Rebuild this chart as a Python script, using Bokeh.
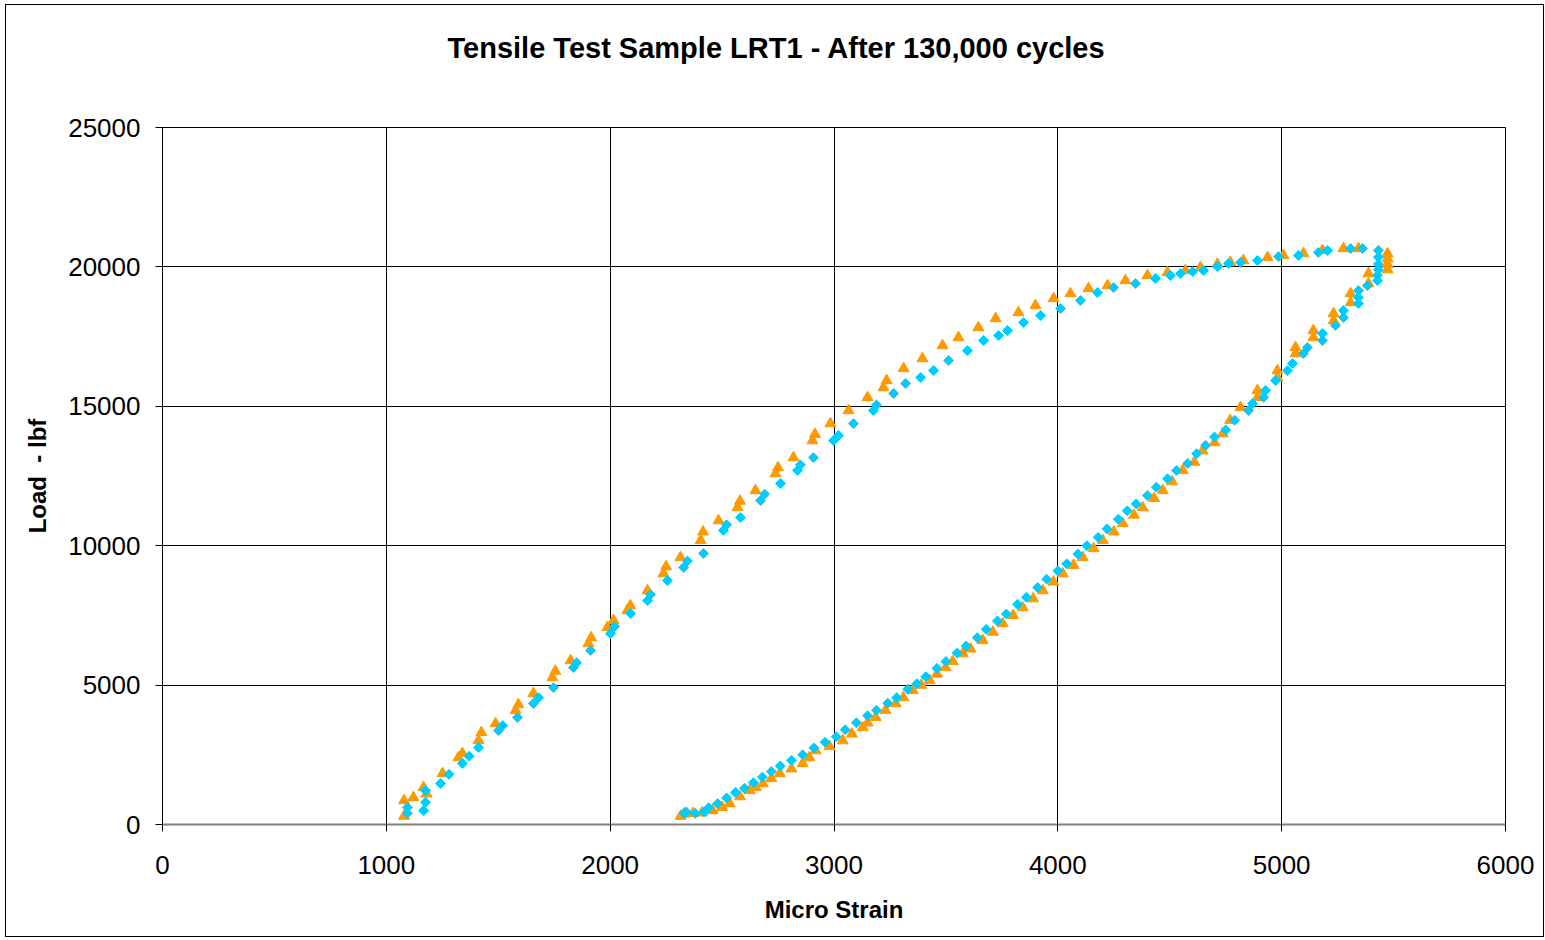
import numpy as np
from bokeh.plotting import figure
from bokeh.models import Range1d, SingleIntervalTicker, Title
from bokeh.embed import file_html
from bokeh.resources import INLINE

# ---- data ----
title_text = "Tensile Test Sample LRT1 - After 130,000 cycles"
x_label = "Micro Strain"
y_label = "Load \u00a0- lbf"

# orange triangles: loading branch then unloading branch
tri_x = [1079, 1079, 1121, 1166, 1180, 1251, 1322, 1340, 1412, 1425, 1488, 1577, 1590, 1657,
         1742, 1755, 1823, 1903, 1915, 1988, 2015, 2077, 2090, 2167, 2238, 2250, 2314, 2404,
         2415, 2484, 2569, 2580, 2649, 2739, 2750, 2819, 2904, 2915, 2984, 3065, 3150, 3221,
         3235, 3311, 3395, 3485, 3556, 3645, 3722, 3824, 3900, 3981, 4056, 4137, 4222, 4302,
         4400, 4490, 4570, 4637, 4713, 4771, 4829, 4937, 5008, 5097, 5182, 5276, 5343,
         5473, 5473, 5473, 5473, 5388, 5388, 5308, 5308, 5232, 5232, 5142, 5142, 5062, 5062,
         4981, 4981, 4892, 4892, 4816, 4770, 4737, 4700, 4647, 4610, 4558, 4510, 4469, 4430,
         4379, 4340, 4290, 4250, 4201, 4160, 4111, 4070, 4022, 3980, 3933, 3890, 3843, 3800,
         3754, 3710, 3664, 3610, 3575, 3530, 3499, 3460, 3428, 3390, 3352, 3310, 3276, 3230,
         3186, 3150, 3128, 3080, 3039, 2980, 2918, 2890, 2860, 2810, 2758, 2720, 2682, 2650,
         2623, 2580, 2534, 2500, 2458, 2410, 2370, 2330, 2315]
tri_y = [300, 860, 970, 1330, 1100, 1830, 2400, 2550, 3010, 3300, 3620, 4090, 4300, 4700,
         5270, 5500, 5880, 6490, 6700, 7070, 7320, 7680, 7850, 8390, 9000, 9250, 9580, 10190,
         10500, 10900, 11370, 11600, 11980, 12590, 12800, 13160, 13770, 14000, 14380, 14850,
         15320, 15670, 15925, 16356, 16714, 17180, 17467, 17826, 18149, 18364, 18615, 18866,
         19046, 19225, 19333, 19512, 19691, 19800, 19870, 19980, 20100, 20160, 20230, 20340,
         20410, 20480, 20590, 20660, 20660,
         20480, 20300, 20100, 19900, 19760, 19400, 19046, 18720, 18330, 18077, 17720, 17470,
         17110, 16890, 16280, 16030, 15570, 15320, 14960, 14500, 14020, 13700, 13410, 13000,
         12700, 12300, 11980, 11700, 11370, 11100, 10800, 10500, 10190, 9900, 9580, 9300,
         9000, 8700, 8390, 8100, 7780, 7500, 7210, 6900, 6600, 6300, 6130, 5850, 5630, 5400,
         5165, 5000, 4810, 4550, 4340, 4100, 3840, 3650, 3480, 3250, 3010, 2800, 2650, 2400,
         2190, 2000, 1830, 1650, 1470, 1330, 1220, 1000, 750, 620, 500, 420, 400, 380, 300]

# cyan diamonds: loading branch then unloading branch
dia_x = [1094, 1094, 1166, 1175, 1175, 1242, 1280, 1340, 1370, 1412, 1501, 1520, 1586, 1657,
         1680, 1747, 1836, 1850, 1912, 2001, 2020, 2091, 2167, 2180, 2256, 2328, 2345, 2417,
         2506, 2520, 2582, 2672, 2690, 2761, 2837, 2850, 2908, 2998, 3020, 3087, 3176, 3190,
         3266, 3320, 3387, 3445, 3512, 3596, 3668, 3735, 3775, 3847, 3923, 4012, 4101, 4177,
         4249, 4347, 4436, 4503, 4548, 4602, 4651, 4713, 4762, 4816, 4892, 4986, 5075, 5164,
         5205, 5308, 5361,
         5432, 5432, 5432, 5432, 5428, 5428, 5383, 5343, 5343, 5343, 5276, 5276, 5240, 5182,
         5182, 5115, 5097, 5048, 5026, 4973, 4928, 4919, 4870, 4852, 4790, 4750, 4700, 4660,
         4620, 4580, 4530, 4490, 4440, 4400, 4350, 4310, 4270, 4220, 4180, 4130, 4090, 4040,
         4000, 3950, 3910, 3860, 3820, 3770, 3730, 3680, 3640, 3590, 3550, 3500, 3460, 3410,
         3370, 3330, 3280, 3240, 3190, 3150, 3100, 3050, 3010, 2960, 2910, 2860, 2810, 2760,
         2720, 2680, 2640, 2600, 2560, 2520, 2480, 2440, 2420, 2380, 2340, 2330]
dia_y = [400, 610, 500, 800, 1220, 1470, 1800, 2190, 2450, 2760, 3370, 3550, 3840, 4340,
         4550, 4910, 5630, 5800, 6240, 6850, 7100, 7570, 8030, 8250, 8750, 9220, 9450, 9720,
         10550, 10750, 11010, 11620, 11850, 12230, 12700, 12900, 13160, 13770, 13950, 14380,
         14850, 15050, 15460, 15818, 16033, 16284, 16643, 17000, 17360, 17540, 17720, 18005,
         18256, 18508, 18795, 19082, 19261, 19405, 19584, 19690, 19760, 19830, 19870, 20010,
         20120, 20160, 20230, 20370, 20410, 20520, 20590, 20660, 20660,
         20590, 20350, 20100, 19900, 19700, 19510, 19330, 19150, 18900, 18690, 18436, 18185,
         17900, 17610, 17360, 17110, 16890, 16535, 16280, 15925, 15570, 15320, 15100, 14850,
         14500, 14150, 13900, 13600, 13300, 12950, 12700, 12400, 12100, 11800, 11500, 11250,
         10950, 10600, 10300, 10000, 9700, 9350, 9100, 8800, 8500, 8150, 7900, 7550, 7300,
         7000, 6700, 6400, 6150, 5850, 5600, 5300, 5050, 4850, 4550, 4350, 4100, 3900, 3650,
         3400, 3150, 2950, 2750, 2500, 2300, 2100, 1900, 1700, 1500, 1300, 1150, 950, 750,
         600, 450, 400, 450, 400]

x_min, x_max, x_step = 0, 6000, 1000
y_min, y_max, y_step = 0, 25000, 5000

ORANGE = "#FF9900"
CYAN = "#00CCFF"
FONT = "Liberation Sans"

p = figure(
    frame_width=1343, frame_height=697,
    min_border_left=156, min_border_right=38, min_border_top=122, min_border_bottom=112,
    x_range=Range1d(x_min, x_max), y_range=Range1d(y_min, y_max),
    output_backend="svg", toolbar_location=None,
    background_fill_color="white", border_fill_color="white",
)
p.title_location = None
p.styles = {"border": "1px solid black", "margin-left": "5px", "margin-top": "4px"}

# spacer between title and plot area (added first -> nearest the frame)
p.add_layout(Title(text="\u00a0", text_font=FONT, text_font_size="55px", standoff=0), "above")
p.add_layout(Title(text=title_text, text_font=FONT, text_font_size="29px",
                   text_font_style="bold", text_color="black", align="left",
                   offset=285, standoff=0), "above")

p.outline_line_color = "black"
p.outline_line_width = 1

for ax in (p.xaxis[0], p.yaxis[0]):
    ax.major_label_text_font = FONT
    ax.major_label_text_font_size = "26px"
    ax.major_label_text_color = "black"
    ax.axis_label_text_font = FONT
    ax.axis_label_text_font_size = "24px"
    ax.axis_label_text_font_style = "bold"
    ax.axis_label_text_color = "black"
    ax.major_tick_in = 0
    ax.major_tick_out = 7
    ax.major_tick_line_color = "black"
    ax.minor_tick_line_color = None

p.xaxis.ticker = SingleIntervalTicker(interval=x_step)
p.yaxis.ticker = SingleIntervalTicker(interval=y_step)
p.xaxis.axis_label = x_label
p.yaxis.axis_label = y_label
p.xaxis.axis_line_color = "#808080"
p.xaxis.axis_line_width = 2
p.yaxis.axis_line_color = "black"
p.xaxis.major_label_standoff = 24
p.yaxis.major_label_standoff = 15
p.xaxis.axis_label_standoff = 19
p.yaxis.axis_label_standoff = 14

p.xgrid.grid_line_color = "black"
p.ygrid.grid_line_color = "black"
p.xgrid.grid_line_width = 1
p.ygrid.grid_line_width = 1

p.scatter(tri_x, tri_y, marker="triangle", size=11, fill_color=ORANGE, line_color=ORANGE)
p.scatter(dia_x, dia_y, marker="square", angle=np.pi / 4, size=7,
          fill_color=CYAN, line_color=CYAN)

open("out.html", "w").write(file_html(p, INLINE))
